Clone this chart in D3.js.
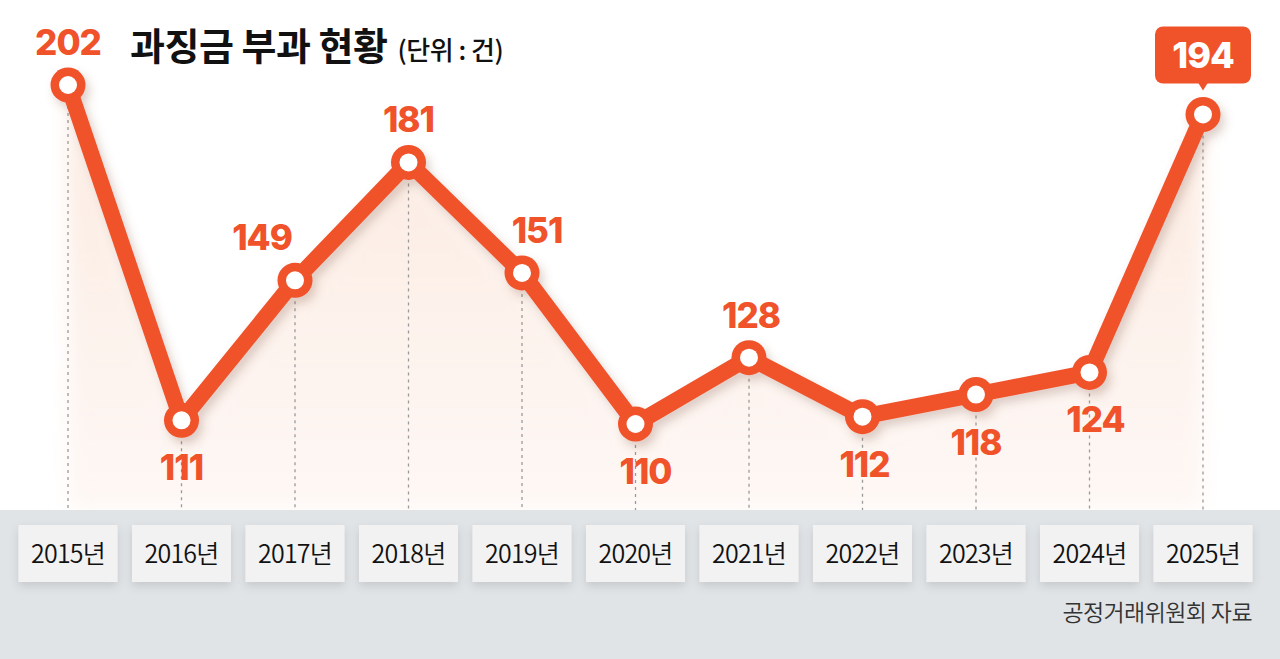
<!DOCTYPE html>
<html>
<head>
<meta charset="utf-8">
<script src="https://cdn.jsdelivr.net/npm/d3@7"></script>
<style>
  body { margin: 0; background: #fff; }
  svg { display: block; font-family: Inter, "Noto Sans CJK KR", sans-serif; }
</style>
</head>
<body>
<div id="chart"></div>
<script>
// ===== data =====
const years = ['2015', '2016', '2017', '2018', '2019', '2020', '2021', '2022', '2023', '2024', '2025'];
const counts = [202, 111, 149, 181, 151, 110, 128, 112, 118, 124, 194];
const yearLabels = years.map(d => d + '년');
// where each value label sits relative to its point
const labelSide = ['above', 'below', 'above', 'above', 'above', 'below', 'above', 'below', 'below', 'below', 'box'];
const labelShift = [0, 0, -33, 0, 15, 10, 2, 2, 0, 6, 0];

const svgWidth = 1280;
const svgHeight = 659;
const bandTop = 510;
const orange = '#f0522a';

const svg = d3.select('#chart').append('svg')
    .attr('width', svgWidth)
    .attr('height', svgHeight);

const defs = svg.append('defs');
const grad = defs.append('linearGradient')
    .attr('id', 'areaGrad').attr('x1', 0).attr('y1', 0).attr('x2', 0).attr('y2', 1);
grad.append('stop').attr('offset', '0%').attr('stop-color', '#fbe3d6').attr('stop-opacity', 0.8);
grad.append('stop').attr('offset', '100%').attr('stop-color', '#fdf3ee').attr('stop-opacity', 0.6);

const shadow = defs.append('filter').attr('id', 'shadow')
    .attr('x', '-20%').attr('y', '-20%').attr('width', '140%').attr('height', '140%');
shadow.append('feDropShadow')
    .attr('dx', 4).attr('dy', 6).attr('stdDeviation', 5)
    .attr('flood-color', '#7a4a30').attr('flood-opacity', 0.25);

const boxShadow = defs.append('filter').attr('id', 'boxShadow')
    .attr('x', '-20%').attr('y', '-30%').attr('width', '140%').attr('height', '170%');
boxShadow.append('feDropShadow')
    .attr('dx', 0).attr('dy', 4).attr('stdDeviation', 5)
    .attr('flood-color', '#000').attr('flood-opacity', 0.12);

const areaBlur = defs.append('filter').attr('id', 'areaBlur')
    .attr('x', '-5%').attr('y', '-10%').attr('width', '110%').attr('height', '120%');
areaBlur.append('feGaussianBlur').attr('stdDeviation', 10);

// ===== scales =====
const xScale = d3.scalePoint().domain(years).range([68, 1203]);
const yScale = d3.scaleLinear().domain([110, 202]).range([424, 85]);

// ===== area + dashed drops =====
const area = d3.area()
    .x((d, i) => xScale(years[i]))
    .y0(bandTop)
    .y1(d => yScale(d) + 10);
svg.append('path')
    .datum(counts)
    .attr('d', area)
    .attr('fill', 'url(#areaGrad)')
    .attr('filter', 'url(#areaBlur)');

svg.selectAll('line.drop').data(counts).enter()
    .append('line')
    .attr('class', 'drop')
    .attr('x1', (d, i) => xScale(years[i]))
    .attr('x2', (d, i) => xScale(years[i]))
    .attr('y1', d => yScale(d))
    .attr('y2', bandTop)
    .attr('stroke', '#9a9a9a')
    .attr('stroke-width', 1.3)
    .attr('stroke-dasharray', '3,4');

// ===== bottom band with year boxes =====
svg.append('rect')
    .attr('x', 0).attr('y', bandTop)
    .attr('width', svgWidth).attr('height', svgHeight - bandTop)
    .attr('fill', '#e1e4e7');

const xAxis = svg.append('g');
const ticks = xAxis.selectAll('g').data(years).enter()
    .append('g')
    .attr('transform', d => `translate(${xScale(d)},0)`);
ticks.append('rect')
    .attr('x', -49.5).attr('y', 525)
    .attr('width', 99).attr('height', 57)
    .attr('fill', '#f2f2f2')
    .attr('filter', 'url(#boxShadow)');
ticks.append('text')
    .attr('y', 563)
    .attr('text-anchor', 'middle')
    .attr('font-family', '"Noto Sans CJK KR", sans-serif')
    .attr('font-size', 25)
    .attr('font-weight', 350)
    .attr('letter-spacing', -0.8)
    .attr('fill', '#111')
    .text((d, i) => yearLabels[i]);

svg.append('text')
    .attr('x', 1252).attr('y', 621)
    .attr('text-anchor', 'end')
    .attr('font-family', '"Noto Sans CJK KR", sans-serif')
    .attr('font-size', 23)
    .attr('font-weight', 350)
    .attr('letter-spacing', -0.6)
    .attr('fill', '#333')
    .text('공정거래위원회 자료');

// ===== line + points =====
const line = d3.line()
    .x((d, i) => xScale(years[i]))
    .y(d => yScale(d));
const lineGroup = svg.append('g').attr('filter', 'url(#shadow)');
lineGroup.append('path')
    .datum(counts)
    .attr('d', line)
    .attr('fill', 'none')
    .attr('stroke', orange)
    .attr('stroke-width', 16)
    .attr('stroke-linejoin', 'round');
lineGroup.selectAll('circle').data(counts).enter()
    .append('circle')
    .attr('cx', (d, i) => xScale(years[i]))
    .attr('cy', d => yScale(d))
    .attr('r', 17.5)
    .attr('fill', orange);
svg.selectAll('circle.inner').data(counts).enter()
    .append('circle')
    .attr('class', 'inner')
    .attr('cx', (d, i) => xScale(years[i]))
    .attr('cy', d => yScale(d))
    .attr('r', 9)
    .attr('fill', '#fff');

// ===== value labels =====
counts.forEach((v, i) => {
    const cx = xScale(years[i]) + labelShift[i];
    const cy = yScale(v);
    if (labelSide[i] === 'box') {
        const g = svg.append('g');
        g.append('rect')
            .attr('x', cx - 48).attr('y', cy - 88)
            .attr('width', 96).attr('height', 57)
            .attr('rx', 8)
            .attr('fill', orange);
        g.append('path')
            .attr('d', `M${cx - 5},${cy - 32}L${cx + 5},${cy - 32}L${cx},${cy - 24}Z`)
            .attr('fill', orange);
        g.append('text')
            .attr('x', cx).attr('y', cy - 46)
            .attr('text-anchor', 'middle')
            .attr('font-size', 36)
            .attr('font-weight', 800)
            .attr('letter-spacing', -1)
            .attr('fill', '#fff')
            .text(v);
    } else {
        svg.append('text')
            .attr('x', cx)
            .attr('y', labelSide[i] === 'above' ? cy - 30 : cy + 60)
            .attr('text-anchor', 'middle')
            .attr('font-size', 35)
            .attr('font-weight', 800)
            .attr('letter-spacing', -1)
            .attr('fill', orange)
            .text(v);
    }
});

// ===== title =====
const title = svg.append('text')
    .attr('x', 130).attr('y', 60)
    .attr('font-family', '"Noto Sans CJK KR", sans-serif')
    .attr('fill', '#111');
title.append('tspan')
    .attr('font-size', 38)
    .attr('font-weight', 700)
    .attr('letter-spacing', -0.5)
    .text('과징금 부과 현황');
title.append('tspan')
    .attr('dx', 10)
    .attr('font-size', 26)
    .attr('font-weight', 500)
    .attr('letter-spacing', -0.5)
    .text('(단위 : 건)');
</script>
</body>
</html>
